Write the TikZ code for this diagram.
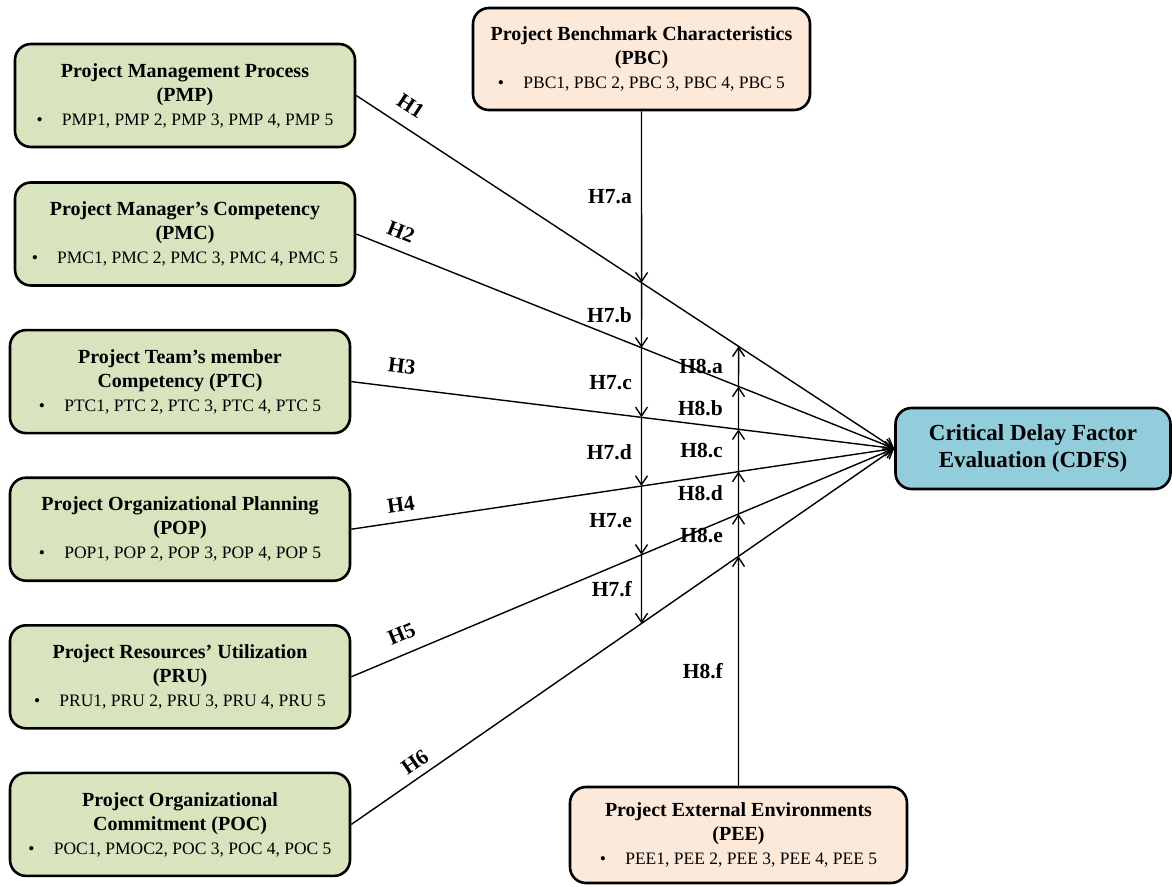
\documentclass[tikz,border=0pt]{standalone}
\usepackage{fontspec}
\setmainfont{Liberation Serif}
\usetikzlibrary{arrows.meta,positioning}
\definecolor{boxgreen}{RGB}{215,228,189}
\definecolor{boxpeach}{RGB}{253,233,217}
\definecolor{boxblue}{RGB}{146,205,220}
\newcommand{\hd}[1]{{\fontsize{20}{25}\selectfont\bfseries #1}}

\begin{document}
\begin{tikzpicture}[x=1pt, y=-1pt, node distance=42pt,
  factor/.style={draw, line width=2.6pt, rounded corners=16pt, align=center, minimum width=340pt, minimum height=103pt, inner sep=2pt, font=\fontsize{17.5}{24}\selectfont},
  outcome/.style={draw, line width=2.6pt, rounded corners=16pt, align=center, fill=boxblue, minimum width=275pt, minimum height=81pt, font=\fontsize{23}{27}\selectfont\bfseries},
  link/.style={-{Straight Barb[length=9pt,width=12pt]}, line width=1.4pt},
  hyp/.style={font=\fontsize{21.5}{24}\selectfont\bfseries, inner sep=2pt}]
\useasboundingbox (0,0) rectangle (1172,886);

% left column of factors
\node[factor, fill=boxgreen] (pmp) at (185,95.5) {\hd{Project Management Process}\\\hd{(PMP)}\\\textbullet\hspace{1.1em}PMP1, PMP 2, PMP 3, PMP 4, PMP 5};
\node[factor, fill=boxgreen] (pmc) at (185,234) {\hd{Project Manager’s Competency}\\\hd{(PMC)}\\\textbullet\hspace{1.1em}PMC1, PMC 2, PMC 3, PMC 4, PMC 5};
\node[factor, fill=boxgreen, below=of pmc, xshift=-5pt] (ptc) {\hd{Project Team’s member}\\\hd{Competency (PTC)}\\\textbullet\hspace{1.1em}PTC1, PTC 2, PTC 3, PTC 4, PTC 5};
\node[factor, fill=boxgreen, below=of ptc] (pop) {\hd{Project Organizational Planning}\\\hd{(POP)}\\\textbullet\hspace{1.1em}POP1, POP 2, POP 3, POP 4, POP 5};
\node[factor, fill=boxgreen, below=of pop] (pru) {\hd{Project Resources’ Utilization}\\\hd{(PRU)}\\\textbullet\hspace{1.1em}PRU1, PRU 2, PRU 3, PRU 4, PRU 5};
\node[factor, fill=boxgreen, below=of pru] (poc) {\hd{Project Organizational}\\\hd{Commitment (POC)}\\\textbullet\hspace{1.1em}POC1, PMOC2, POC 3, POC 4, POC 5};

% moderators and outcome
\node[factor, fill=boxpeach, minimum width=337pt, minimum height=102pt] (pbc) at (641.5,59) {\hd{Project Benchmark Characteristics}\\\hd{(PBC)}\\\textbullet\hspace{1.1em}PBC1, PBC 2, PBC 3, PBC 4, PBC 5};
\node[factor, fill=boxpeach, minimum width=337pt, minimum height=96pt] (pee) at (738.5,835) {\hd{Project External Environments}\\\hd{(PEE)}\\\textbullet\hspace{1.1em}PEE1, PEE 2, PEE 3, PEE 4, PEE 5};
\node[outcome] (cdfs) at (1033,448.5) {Critical Delay Factor\\Evaluation (CDFS)};

\coordinate (v1) at (pbc.south |- pee.north);
\coordinate (v2) at (pee.north |- pbc.south);
\foreach \src [count=\i] in {pmp,pmc,ptc,pop,pru,poc} {
  \coordinate (t\i) at (intersection of \src.east--cdfs.west and pbc.south--v1);
  \coordinate (u\i) at (intersection of \src.east--cdfs.west and pee.north--v2);
}

% direct paths
\foreach \src/\p/\d [count=\i] in {pmp/0.08/11,pmc/0.07/9,ptc/0.088/12,pop/0.096/7,pru/0.107/10,poc/0.133/5}
  \draw[link] (\src.east) -- node[hyp, sloped, above=\d pt, pos=\p]{H\i} (cdfs.west);

% moderating paths
\draw[link] (pbc.south) -- node[hyp, left=7pt]{H7.a} (t1);
\foreach \j/\k/\l in {1/2/b,2/3/c,3/4/d,4/5/e,5/6/f}
  \draw[link] (t\j) -- node[hyp, left=7pt]{H7.\l} (t\k);
\draw[link] (pee.north) -- node[hyp, left=13pt]{H8.f} (u6);
\foreach \j/\k/\l in {6/5/e,5/4/d,4/3/c,3/2/b,2/1/a}
  \draw[link] (u\j) -- node[hyp, left=13pt]{H8.\l} (u\k);
\end{tikzpicture}
\end{document}
